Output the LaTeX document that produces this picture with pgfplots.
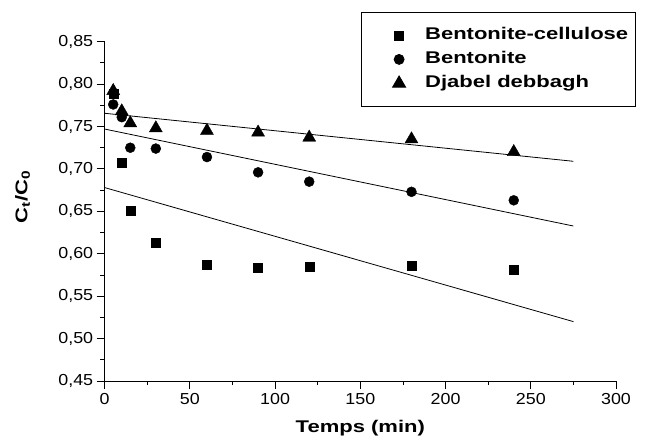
\documentclass[border=0pt]{standalone}
\usepackage{fontspec}
\setmainfont{Liberation Sans}
\newfontfamily\tickfont{Liberation Sans}[FakeStretch=1.12]
\newfontfamily\labfont{Liberation Sans}[FakeStretch=1.3]
\usepackage{pgfplots}
\pgfplotsset{compat=1.18}
\pgfplotsset{myleg/.style={legend image code/.code={\path[draw=none,fill=none] (0bp,-6bp) rectangle (41bp,6bp); \draw[##1,overlay] plot coordinates {(33bp,0bp)};}}}
\begin{document}
\begin{tikzpicture}[x=1bp,y=1bp]
\useasboundingbox (-104.7,-57) rectangle (540.3,381);
\begin{axis}[
  at={(0,0)}, anchor=south west,
  scale only axis, width=511.3bp, height=339.3bp,
  xmin=0, xmax=300, ymin=0.45, ymax=0.85,
  axis x line=bottom, axis y line=left,
  axis line style={-, line width=0.9bp, black},
  xtick={0,50,100,150,200,250,300},
  ytick={0.45,0.50,0.55,0.60,0.65,0.70,0.75,0.80,0.85},
  minor x tick num=1, minor y tick num=1,
  tick align=outside,
  major tick length=8bp, minor tick length=4.5bp,
  every tick/.style={black, line width=0.9bp},
  /pgf/number format/assume math mode=true,
  ticklabel style={font=\tickfont\fontsize{16}{18}\selectfont},
  y tick label style={/pgf/number format/.cd, fixed, fixed zerofill, precision=2, use comma},
  x tick label style={yshift=-1bp},
  xlabel={\labfont\bfseries Temps (min)},
  xlabel style={at={(axis description cs:0.5,0)}, anchor=center, yshift=-47bp, font=\fontsize{17}{20}\selectfont},
  ylabel={\labfont\bfseries C\textsubscript{t}/C\textsubscript{0}},
  ylabel style={at={(axis description cs:-0.1608,0.542)}, anchor=center, font=\fontsize{17}{20}\selectfont},
  legend style={at={(axis description cs:0.5007,1.0875)}, anchor=north west,
    draw=black, line width=0.8bp, font=\labfont\bfseries\fontsize{17}{20}\selectfont,
    inner xsep=5bp, inner ysep=13bp, row sep=4bp,
    nodes={inner xsep=2bp, inner ysep=2bp, text height=12bp, text depth=4bp},
    /tikz/every odd column/.append style={column sep=16bp}},
  legend cell align=left,
  clip=false,
]
\addplot[only marks, mark=square*, mark size=4.5bp, black, myleg] coordinates {
(5,0.789) (10,0.707) (15,0.651) (30,0.613) (60,0.587) (90,0.583) (120,0.585) (180,0.586) (240,0.581)};
\addlegendentry{Bentonite-cellulose}
\addplot[only marks, mark=*, mark size=5bp, black, myleg] coordinates {
(5,0.776) (10,0.761) (15,0.725) (30,0.724) (60,0.714) (90,0.696) (120,0.685) (180,0.673) (240,0.663)};
\addlegendentry{Bentonite}
\addplot[only marks, mark=triangle*, mark size=7.5bp, black, myleg] coordinates {
(5,0.792) (10,0.768) (15,0.754) (30,0.748) (60,0.745) (90,0.743) (120,0.737) (180,0.735) (240,0.720)};
\addlegendentry{Djabel debbagh}
\addplot[black, line width=0.8bp, forget plot] coordinates {(0,0.678) (275,0.520)};
\addplot[black, line width=0.8bp, forget plot] coordinates {(0,0.747) (275,0.6327)};
\addplot[black, line width=0.8bp, forget plot] coordinates {(0,0.7656) (275,0.709)};
\end{axis}
\end{tikzpicture}
\end{document}
